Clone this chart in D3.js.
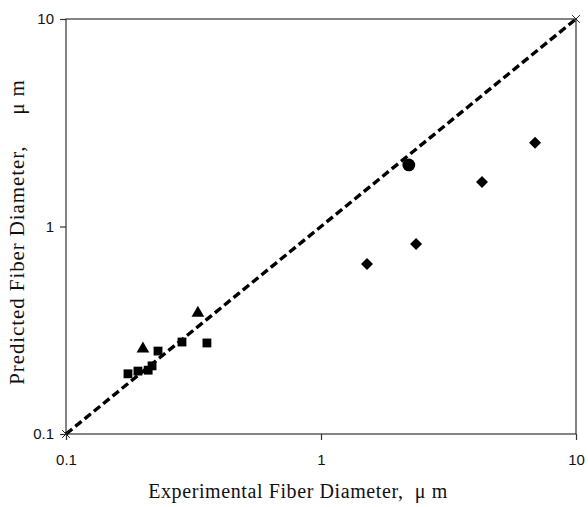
<!DOCTYPE html>
<html>
<head>
<meta charset="utf-8">
<script src="https://cdn.jsdelivr.net/npm/d3@7"></script>
<style>
  body { margin: 0; background: #fff; }
  svg { display: block; }
</style>
</head>
<body>
<svg id="chart" width="588" height="507"></svg>
<script>
// data
const squareX = [0.175, 0.1915, 0.21, 0.2175, 0.2295, 0.285, 0.357];
const squareY = [0.195, 0.201, 0.203, 0.213, 0.251, 0.2775, 0.2746];
const triangleX = [0.2003, 0.329];
const triangleY = [0.257, 0.383];
const circleX = [2.21];
const circleY = [1.98];
const diamondX = [1.515, 2.36, 4.28, 6.91];
const diamondY = [0.66, 0.823, 1.64, 2.53];
const lineX = [0.1, 10];
const lineY = [0.1, 10];
const tickValues = [0.1, 1, 10];

const svg = d3.select("#chart");
const plotLeft = 66, plotRight = 576, plotTop = 19, plotBottom = 434;

const x = d3.scaleLog().domain([0.1, 10]).range([plotLeft, plotRight]);
const y = d3.scaleLog().domain([0.1, 10]).range([plotBottom, plotTop]);

// frame
svg.append("rect")
    .attr("x", plotLeft).attr("y", plotTop)
    .attr("width", plotRight - plotLeft).attr("height", plotBottom - plotTop)
    .attr("fill", "none").attr("stroke", "#333").attr("stroke-width", 1.2);

// axes
const xAxis = d3.axisBottom(x).tickValues(tickValues).tickSize(6).tickFormat(d => d);
const yAxis = d3.axisLeft(y).tickValues(tickValues).tickSize(6).tickFormat(d => d);

const gx = svg.append("g").attr("transform", `translate(0,${plotBottom})`).call(xAxis);
const gy = svg.append("g").attr("transform", `translate(${plotLeft},0)`).call(yAxis);
[gx, gy].forEach(g => {
    g.select(".domain").remove();
    g.selectAll("line").attr("stroke", "#333").attr("stroke-width", 1.2);
    g.selectAll("text")
        .attr("fill", "#111")
        .style("font-family", "'Liberation Sans', Arial, sans-serif")
        .style("font-size", "15px");
});
gx.selectAll("text").attr("y", 20);
gy.selectAll("text").attr("x", -12);

// 1:1 dashed line
const pts = lineX.map((v, i) => [v, lineY[i]]);
svg.append("path")
    .datum(pts)
    .attr("d", d3.line().x(d => x(d[0])).y(d => y(d[1])))
    .attr("fill", "none")
    .attr("stroke", "#000")
    .attr("stroke-width", 3.4)
    .attr("stroke-dasharray", "8,4");

svg.selectAll(".endmark")
    .data(pts)
    .enter()
    .append("path")
    .attr("class", "endmark")
    .attr("transform", d => `translate(${x(d[0])},${y(d[1])})`)
    .attr("d", d3.symbol(d3.symbolX, 40))
    .attr("stroke", "#222")
    .attr("stroke-width", 1)
    .attr("fill", "none");

function drawSeries(xs, ys, type, size, rot) {
    svg.append("g")
        .selectAll("path")
        .data(xs.map((v, i) => [v, ys[i]]))
        .enter()
        .append("path")
        .attr("transform", d => `translate(${x(d[0])},${y(d[1])}) rotate(${rot || 0})`)
        .attr("d", d3.symbol(type, size))
        .attr("fill", "#000");
}

drawSeries(squareX, squareY, d3.symbolSquare, 78);
drawSeries(triangleX, triangleY, d3.symbolTriangle, 70);
drawSeries(circleX, circleY, d3.symbolCircle, 130);
drawSeries(diamondX, diamondY, d3.symbolSquare, 72, 45);

// axis titles
svg.append("text")
    .attr("x", 298)
    .attr("y", 498)
    .attr("text-anchor", "middle")
    .style("white-space", "pre")
    .style("font-family", "'Liberation Serif', 'Times New Roman', serif")
    .style("font-size", "20px")
    .style("letter-spacing", "0.6px")
    .attr("fill", "#111")
    .text("Experimental Fiber Diameter,  μ m");

svg.append("text")
    .attr("transform", `translate(24,232) rotate(-90)`)
    .attr("text-anchor", "middle")
    .style("white-space", "pre")
    .style("font-family", "'Liberation Serif', 'Times New Roman', serif")
    .style("font-size", "21px")
    .style("letter-spacing", "0.9px")
    .attr("fill", "#111")
    .text("Predicted Fiber Diameter,     μ m");
</script>
</body>
</html>
